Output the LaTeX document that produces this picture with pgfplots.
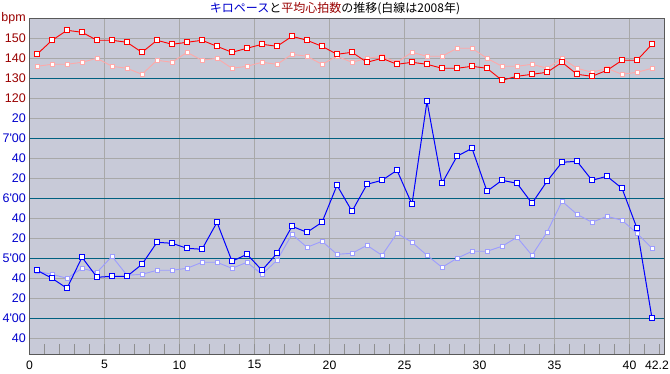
\documentclass[border=0pt]{standalone}
\usepackage{pgfplots}
\pgfplotsset{compat=1.18}
\usepackage{fontspec}
\setmainfont{Liberation Sans}[Ligatures=TeXOff]
\newfontfamily\jp{Noto Sans CJK JP}
\definecolor{bg}{HTML}{C8CAD8}
\definecolor{gridc}{HTML}{A8A8A8}
\definecolor{tealc}{HTML}{006080}
\definecolor{hrc}{HTML}{990000}
\definecolor{pc}{HTML}{0000CC}
\definecolor{pinkc}{HTML}{FFA8A8}
\definecolor{lblue}{HTML}{9C9CFF}
\definecolor{tickc}{HTML}{909090}
\begin{document}
\begin{tikzpicture}[x=1pt,y=1pt]
\useasboundingbox (0,0) rectangle (670,374);
\node[font=\jp\fontsize{12}{14}\selectfont, anchor=center] at (335,365) {\textcolor{pc}{キロペース}と\textcolor{hrc}{平均心拍数}の推移(白線は2008年)};
\begin{axis}[at={(29.5pt,19.7pt)}, anchor=south west, scale only axis,
  width=634.5pt, height=336pt,
  xmin=0, xmax=42.3, ymin=204, ymax=540,
  axis background/.style={fill=bg},
  axis line style={draw=black!65, line width=0.8pt},
  xtick={0,5,...,40},
  xticklabels={0,5,10,15,20,25,30,35,40},
  minor xtick={1,2,3,4,6,7,8,9,11,12,13,14,16,17,18,19,21,22,23,24,26,27,28,29,31,32,33,34,36,37,38,39,41},
  extra x ticks={42},
  extra x tick labels={42.2},
  extra x tick style={xmajorgrids=false, major tick length=10pt, xticklabel style={xshift=-2.5pt}},
  xtick pos=bottom,
  tick align=inside,
  major tick length=10pt, minor tick length=10pt,
  x tick style={tickc, line width=0.8pt},
  xmajorgrids, ymajorgrids,
  grid style={gridc, line width=1pt},
  ytick={220,240,...,540},
  yticklabels={\textcolor{pc}{40},\textcolor{pc}{4'00},\textcolor{pc}{20},\textcolor{pc}{40},\textcolor{pc}{5'00},\textcolor{pc}{20},\textcolor{pc}{40},\textcolor{pc}{6'00},\textcolor{pc}{20},\textcolor{pc}{40},\textcolor{pc}{7'00},\textcolor{pc}{20},\textcolor{hrc}{120},\textcolor{hrc}{130},\textcolor{hrc}{140},\textcolor{hrc}{150},\textcolor{hrc}{bpm}},
  y tick style={draw=none},
  extra y ticks={240,300,360,420,480},
  extra y tick labels={},
  extra y tick style={grid style={tealc, line width=1pt}, y tick style={draw=none}},
  yticklabel style={anchor=east, inner sep=0pt, xshift=-3.5pt, font=\fontsize{12.5}{13}\selectfont},
  xticklabel style={anchor=north, inner sep=0pt, yshift=-6pt, font=\fontsize{12.2}{13}\selectfont},
  clip=false,
]
% 2008 heart rate (pink)
\addplot[pinkc, line width=0.9pt, mark=square*, mark size=2pt, mark options={fill=white, draw=pinkc, line width=1pt}, y filter/.expression={2*y+220}] coordinates {
(0.5,136)(1.5,137)(2.5,137)(3.5,138)(4.5,140)(5.5,136)(6.5,135)(7.5,132)(8.5,139)(9.5,138)
(10.5,143)(11.5,139)(12.5,140)(13.5,135)(14.5,136)(15.5,138)(16.5,137)(17.5,142)(18.5,141)(19.5,137)
(20.5,141)(21.5,138)(22.5,140)(23.5,141)(24.5,138)(25.5,143)(26.5,141)(27.5,141)(28.5,145)(29.5,145)
(30.5,140)(31.5,136)(32.5,136)(33.5,137)(34.5,135)(35.5,140)(36.5,135)(37.5,133)(38.5,135)(39.5,132)
(40.5,133)(41.5,135)};
% 2008 pace (light blue)
\addplot[lblue, line width=0.9pt, mark=square*, mark size=2pt, mark options={fill=white, draw=lblue, line width=1pt}] coordinates {
(0.5,287)(1.5,284)(2.5,280)(3.5,290)(4.5,286)(5.5,302)(6.5,283)(7.5,284)(8.5,288)(9.5,288)
(10.5,290)(11.5,296)(12.5,296)(13.5,290)(14.5,296)(15.5,284)(16.5,298)(17.5,324)(18.5,311)(19.5,317)
(20.5,304)(21.5,305)(22.5,313)(23.5,303)(24.5,325)(25.5,316)(26.5,303)(27.5,291)(28.5,300)(29.5,307)
(30.5,307)(31.5,312)(32.5,321)(33.5,303)(34.5,326)(35.5,357)(36.5,344)(37.5,336)(38.5,342)(39.5,338)
(40.5,325)(41.5,310)};
% 2010 heart rate (red)
\addplot[red, line width=0.9pt, mark=square*, mark size=2.5pt, mark options={fill=white, draw=red, line width=1.3pt}, y filter/.expression={2*y+220}] coordinates {
(0.5,142)(1.5,149)(2.5,154)(3.5,153)(4.5,149)(5.5,149)(6.5,148)(7.5,143)(8.5,149)(9.5,147)
(10.5,148)(11.5,149)(12.5,146)(13.5,143)(14.5,145)(15.5,147)(16.5,146)(17.5,151)(18.5,149)(19.5,146)
(20.5,142)(21.5,143)(22.5,138)(23.5,140)(24.5,137)(25.5,138)(26.5,137)(27.5,135)(28.5,135)(29.5,136)
(30.5,135)(31.5,129)(32.5,131)(33.5,132)(34.5,133)(35.5,138)(36.5,132)(37.5,131)(38.5,134)(39.5,139)
(40.5,139)(41.5,147)};
% 2010 pace (blue)
\addplot[blue, line width=1pt, mark=square*, mark size=2.5pt, mark options={fill=white, draw=blue, line width=1.3pt}] coordinates {
(0.5,288)(1.5,280)(2.5,270)(3.5,301)(4.5,281)(5.5,282)(6.5,282)(7.5,294)(8.5,316)(9.5,315)
(10.5,310)(11.5,309)(12.5,336)(13.5,297)(14.5,304)(15.5,288)(16.5,305)(17.5,332)(18.5,326)(19.5,336)
(20.5,373)(21.5,347)(22.5,374)(23.5,378)(24.5,388)(25.5,354)(26.5,457)(27.5,375)(28.5,402)(29.5,410)
(30.5,367)(31.5,378)(32.5,375)(33.5,355)(34.5,377)(35.5,396)(36.5,397)(37.5,378)(38.5,382)(39.5,370)
(40.5,330)(41.5,240)};
\end{axis}
\end{tikzpicture}
\end{document}
